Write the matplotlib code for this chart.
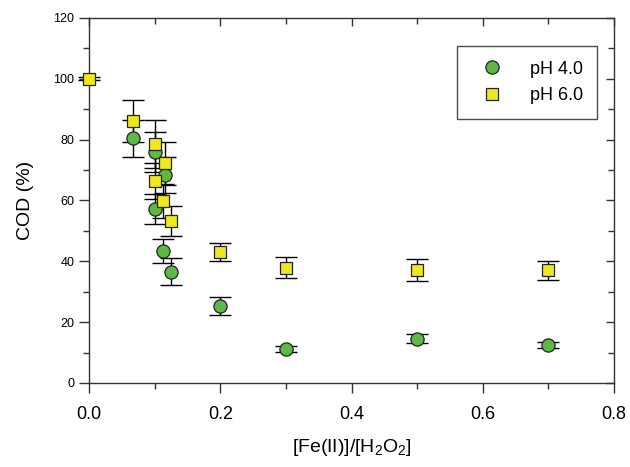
import matplotlib
matplotlib.use("Agg")
import matplotlib.pyplot as plt
from matplotlib.ticker import MultipleLocator

plt.rcParams['font.family'] = ['Liberation Sans', 'DejaVu Sans']
plt.rcParams['mathtext.fontset'] = 'custom'
plt.rcParams['mathtext.rm'] = 'Liberation Sans'

# pH 4.0 (circles)
x_ph4 = [0.067, 0.100, 0.116, 0.100, 0.113, 0.125, 0.2, 0.3, 0.5, 0.7]
y_ph4 = [80.4, 76.0, 68.4, 57.2, 43.4, 36.6, 25.2, 11.2, 14.6, 12.5]
e_ph4 = [6.0, 6.5, 6.0, 5.0, 4.0, 4.5, 3.0, 1.0, 1.5, 1.0]

# pH 6.0 (squares)
x_ph6 = [0.0, 0.067, 0.100, 0.116, 0.100, 0.113, 0.125, 0.2, 0.3, 0.5, 0.7]
y_ph6 = [100.0, 86.1, 78.6, 72.2, 66.4, 59.8, 53.2, 43.0, 37.9, 37.1, 37.0]
e_ph6 = [0.5, 7.0, 8.0, 7.0, 6.0, 5.5, 5.0, 3.0, 3.5, 3.7, 3.0]

fig = plt.figure(figsize=(6.3, 4.67), dpi=100)
ax = fig.add_axes([0.1413, 0.1799, 0.8333, 0.7816])

green = '#5DB944'
yellow = '#EEE81E'

for xs, ys, es in ((x_ph4, y_ph4, e_ph4), (x_ph6, y_ph6, e_ph6)):
    eb = ax.errorbar(xs, ys, yerr=es, fmt='none', ecolor='black',
                     elinewidth=1.0, capsize=8, capthick=1.0, zorder=2)
    for art in list(eb.lines[1]) + list(eb.lines[2]):
        art.set_clip_on(False)
ax.plot(x_ph4, y_ph4, 'o', ms=9.5, mfc=green, mec='#222222', mew=0.9,
        label='pH 4.0', zorder=3, clip_on=False)
ax.plot(x_ph6, y_ph6, 's', ms=9, mfc=yellow, mec='#222222', mew=0.9,
        label='pH 6.0', zorder=4, clip_on=False)

ax.set_xlim(0, 0.8)
ax.set_ylim(0, 120)
ax.xaxis.set_major_locator(MultipleLocator(0.2))
ax.xaxis.set_minor_locator(MultipleLocator(0.1))
ax.yaxis.set_major_locator(MultipleLocator(20))
ax.yaxis.set_minor_locator(MultipleLocator(10))
ax.xaxis.set_major_formatter(matplotlib.ticker.FormatStrFormatter('%.1f'))

for s in ax.spines.values():
    s.set_linewidth(1.0)
    s.set_color('#333333')

ax.tick_params(axis='both', which='major', direction='out', length=7.5, width=1, color='#333333')
ax.tick_params(axis='both', which='minor', direction='out', length=4.5, width=1, color='#333333')
ax.tick_params(axis='x', which='major', labelsize=13, pad=9)
ax.tick_params(axis='y', which='major', labelsize=9, pad=3)

# inward ticks on top and right
secx = ax.secondary_xaxis('top')
secx.xaxis.set_major_locator(MultipleLocator(0.2))
secx.xaxis.set_minor_locator(MultipleLocator(0.1))
secx.tick_params(which='major', direction='in', length=6, width=1, color='#333333', labeltop=False)
secx.tick_params(which='minor', direction='in', length=4, width=1, color='#333333')
secx.spines['top'].set_visible(False)
secy = ax.secondary_yaxis('right')
secy.yaxis.set_major_locator(MultipleLocator(20))
secy.yaxis.set_minor_locator(MultipleLocator(10))
secy.tick_params(which='major', direction='in', length=6, width=1, color='#333333', labelright=False)
secy.tick_params(which='minor', direction='in', length=4, width=1, color='#333333')
secy.spines['right'].set_visible(False)

ax.set_xlabel('[Fe(II)]/[H$_\\mathregular{2}$O$_\\mathregular{2}$]', fontsize=14, labelpad=10)
ax.set_ylabel('COD (%)', fontsize=14, labelpad=14)

leg = ax.legend(loc='upper right', bbox_to_anchor=(0.968, 0.923), fontsize=13,
                frameon=True, fancybox=False, edgecolor='#222222',
                handletextpad=1.0, borderpad=0.8, labelspacing=0.55,
                handlelength=2.2, borderaxespad=0)
leg.get_frame().set_linewidth(1.0)

fig.savefig('out.png', dpi=100)
